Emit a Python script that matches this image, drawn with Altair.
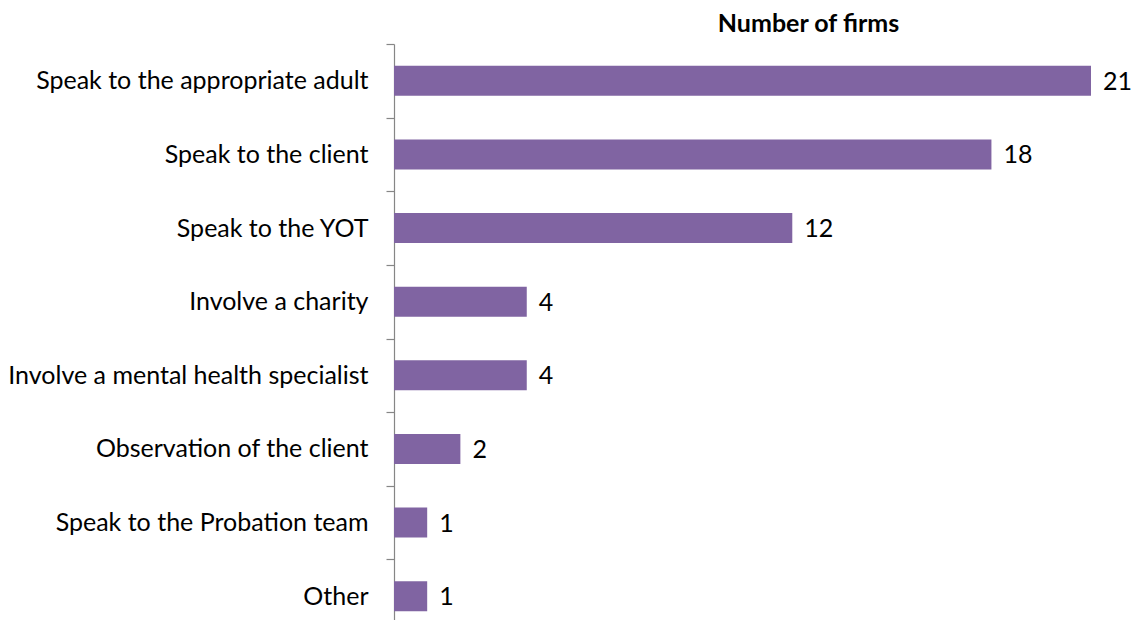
import altair as alt
import pandas as pd

categories = [
    "Speak to the appropriate adult",
    "Speak to the client",
    "Speak to the YOT",
    "Involve a charity",
    "Involve a mental health specialist",
    "Observation of the client",
    "Speak to the Probation team",
    "Other",
]
values = [21, 18, 12, 4, 4, 2, 1, 1]

df = pd.DataFrame({"category": categories, "firms": values})

FONT = "Lato"
FS = 25

y_enc = alt.Y(
    "category:N",
    sort=categories,
    title=None,
    scale=alt.Scale(paddingInner=0, paddingOuter=0, range=[0, 589]),
    axis=alt.Axis(
        domainColor="#868686",
        domainWidth=1.2,
        tickColor="#868686",
        tickWidth=1.2,
        tickSize=8,
        tickBand="extent",
        labelPadding=18,
        labelFont=FONT,
        labelFontSize=FS,
        labelColor="#000000",
        labelLimit=600,
    ),
)
x_enc = alt.X("firms:Q", axis=None, scale=alt.Scale(domain=[0, 21], nice=False, zero=True))

bars = alt.Chart(df).mark_bar(color="#8064A2", height=30).encode(x=x_enc, y=y_enc)
labels = alt.Chart(df).mark_text(
    align="left", baseline="middle", dx=12, dy=1, font=FONT, fontSize=FS, color="#000000"
).encode(x=x_enc, y=y_enc, text="firms:Q")

chart = (
    alt.layer(bars, labels)
    .properties(
        width=697,
        height=576,
        autosize=alt.AutoSizeParams(type="none"),
        padding={"left": 386, "top": 36, "right": 41, "bottom": 0},
        title=alt.TitleParams(
            "Number of firms",
            font=FONT,
            fontSize=FS,
            fontWeight="bold",
            color="#000000",
            anchor="middle",
            dx=66,
            dy=15,
            offset=10,
        ),
    )
    .configure_view(stroke=None)
)

chart.save("out.html", embed_options={"renderer": "svg", "actions": False})
